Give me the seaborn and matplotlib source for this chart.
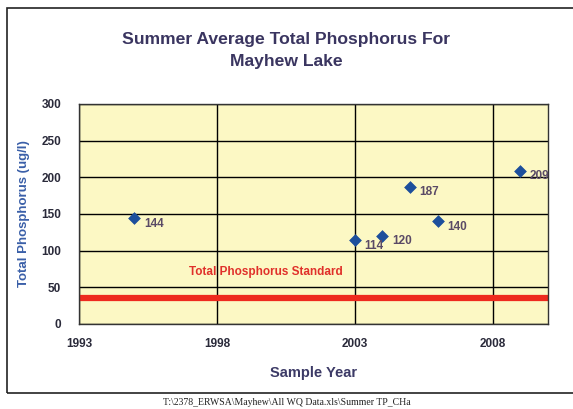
import matplotlib.pyplot as plt
import matplotlib.patches as mpatches
import pandas as pd
import seaborn as sns

sns.set_theme(style="white")
plt.rcParams['font.family'] = ['Liberation Sans', 'DejaVu Sans']

years = [1995, 2003, 2004, 2005, 2006, 2009]
tp_values = [144, 114, 120, 187, 140, 209]
point_labels = ['144', '114', '120', '187', '140', '209']
standard_value = 35
x_ticks = [1993, 1998, 2003, 2008]
y_ticks = [0, 50, 100, 150, 200, 250, 300]

df = pd.DataFrame({'year': years, 'tp': tp_values})

fig = plt.figure(figsize=(5.73, 4.09), dpi=100)
fig.patch.set_facecolor('white')
ax = fig.add_axes([0.138, 0.208, 0.818, 0.538])
ax.set_facecolor('#fcf8c4')

ax.axhline(standard_value, color='#ee2a1e', lw=4.5, zorder=2)
sns.scatterplot(data=df, x='year', y='tp', ax=ax, marker='D', s=36,
                color='#1d4f9c', edgecolor='#1d4f9c', zorder=3, legend=False)
for x, y, lab in zip(years, tp_values, point_labels):
    ax.annotate(lab, (x, y), xytext=(7, -4), textcoords='offset points',
                fontsize=8.5, fontweight='bold', color='#5a4a66', va='center')

ax.text(1997.0, 71, 'Total Phosphorus Standard', color='#e0302a',
        fontsize=8.5, fontweight='bold', va='center')

ax.set_xlim(1993, 2010)
ax.set_ylim(0, 300)
ax.set_xticks(x_ticks)
ax.set_yticks(y_ticks)
ax.grid(True, color='black', lw=1)
ax.set_axisbelow(True)
for s in ax.spines.values():
    s.set_color('#333333')
    s.set_linewidth(1)
ax.tick_params(axis='both', direction='out', length=5, width=1, color='black',
               labelsize=8.5)
ax.tick_params(axis='x', pad=5)
ax.tick_params(axis='y', pad=8)
for t in ax.get_xticklabels() + ax.get_yticklabels():
    t.set_fontweight('bold')
    t.set_color('#2a2a3a')

ax.set_xlabel('Sample Year', fontsize=10.5, fontweight='bold', color='#3c3a66',
              labelpad=12)
ax.set_ylabel('Total Phosphorus (ug/l)', fontsize=9.5, fontweight='bold',
              color='#3a5fa8', labelpad=8)

fig.text(0.5, 0.877, 'Summer Average Total Phosphorus For\nMayhew Lake',
         ha='center', va='center', fontsize=12.6, fontweight='bold',
         color='#3a3560', linespacing=1.55)

fig.patches.append(mpatches.Rectangle((0.012, 0.04), 1.1, 0.94,
                                      transform=fig.transFigure, fill=False,
                                      edgecolor='#222222', lw=1.2))

fig.text(0.5, 0.015, 'T:\\2378_ERWSA\\Mayhew\\All WQ Data.xls\\Summer TP_CHa',
         ha='center', va='center', fontsize=7, family='Liberation Serif',
         color='#222222')

fig.savefig('out.png', dpi=100)
